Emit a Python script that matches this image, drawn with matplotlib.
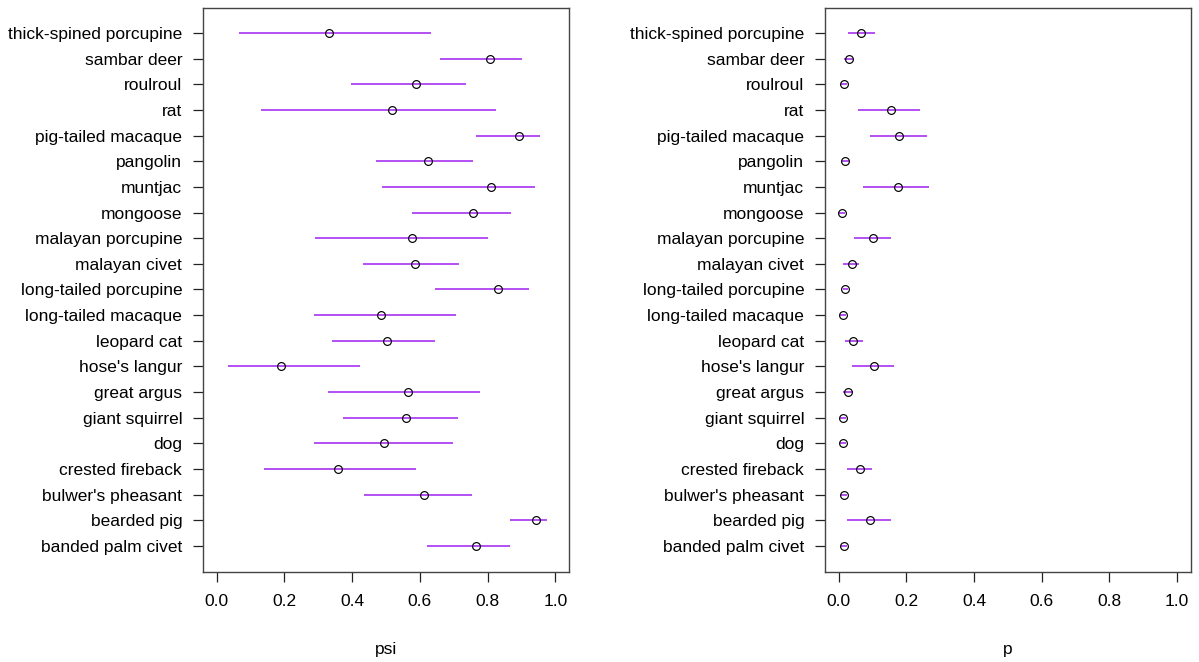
import numpy as np
import matplotlib
matplotlib.use("Agg")
import matplotlib.pyplot as plt

plt.rcParams['font.family'] = ['Liberation Sans', 'DejaVu Sans']

species = ["thick-spined porcupine", "sambar deer", "roulroul", "rat",
           "pig-tailed macaque", "pangolin", "muntjac", "mongoose",
           "malayan porcupine", "malayan civet", "long-tailed porcupine",
           "long-tailed macaque", "leopard cat", "hose's langur",
           "great argus", "giant squirrel", "dog", "crested fireback",
           "bulwer's pheasant", "bearded pig", "banded palm civet"]

# occupancy (psi): estimate, lower, upper
psi_est = [0.333, 0.806, 0.589, 0.517, 0.891, 0.625, 0.809, 0.758, 0.576, 0.586,
           0.829, 0.486, 0.502, 0.191, 0.566, 0.560, 0.495, 0.357, 0.612, 0.942, 0.766]
psi_lo = [0.067, 0.659, 0.397, 0.132, 0.766, 0.471, 0.488, 0.578, 0.290, 0.432,
          0.645, 0.288, 0.342, 0.034, 0.329, 0.374, 0.287, 0.141, 0.435, 0.866, 0.620]
psi_hi = [0.633, 0.901, 0.736, 0.824, 0.953, 0.756, 0.940, 0.869, 0.801, 0.716,
          0.923, 0.707, 0.645, 0.423, 0.778, 0.713, 0.697, 0.587, 0.753, 0.975, 0.865]

# detection (p): estimate, lower, upper
p_est = [0.067, 0.030, 0.017, 0.155, 0.179, 0.020, 0.175, 0.010, 0.101, 0.039,
         0.020, 0.013, 0.044, 0.104, 0.027, 0.013, 0.013, 0.064, 0.016, 0.094, 0.016]
p_lo = [0.029, 0.017, 0.008, 0.057, 0.092, 0.010, 0.073, 0.002, 0.047, 0.014,
        0.012, 0.005, 0.018, 0.041, 0.012, 0.005, 0.005, 0.024, 0.008, 0.024, 0.008]
p_hi = [0.109, 0.042, 0.026, 0.241, 0.261, 0.032, 0.267, 0.018, 0.154, 0.060,
        0.028, 0.021, 0.072, 0.165, 0.042, 0.021, 0.021, 0.099, 0.025, 0.154, 0.024]

xticks = [0.0, 0.2, 0.4, 0.6, 0.8, 1.0]
line_col = "#A020F0"

fig = plt.figure(figsize=(11.99, 6.62), dpi=100)
ax1 = fig.add_axes([0.1693, 0.1364, 0.3053, 0.8511])
ax2 = fig.add_axes([0.6881, 0.1364, 0.3050, 0.8511])

rows = np.arange(1, len(species) + 1)


def draw_panel(ax, est, lo, hi, xlab):
    ax.hlines(rows, lo, hi, colors=line_col, linewidth=1.1, zorder=2)
    ax.plot(est, rows, linestyle="none", marker="o", markersize=5.6,
            markerfacecolor="none", markeredgecolor="black",
            markeredgewidth=0.85, zorder=3)
    ax.set_xlim(-0.04, 1.04)
    ax.set_ylim(22.0, 0.04)
    ax.set_yticks(rows)
    ax.set_yticklabels(species)
    ax.set_xticks(xticks)
    ax.set_xticklabels(["%.1f" % v for v in xticks])
    ax.tick_params(axis="both", direction="out", length=7, width=0.9,
                   labelsize=12.5, color="#222222")
    ax.tick_params(axis="x", pad=9)
    ax.tick_params(axis="y", pad=8)
    for s in ax.spines.values():
        s.set_color("#444444")
        s.set_linewidth(1.0)
    ax.set_xlabel(xlab, fontsize=12.5, labelpad=24)


draw_panel(ax1, psi_est, psi_lo, psi_hi, "psi")
draw_panel(ax2, p_est, p_lo, p_hi, "p")

fig.savefig("out.png", dpi=100)
